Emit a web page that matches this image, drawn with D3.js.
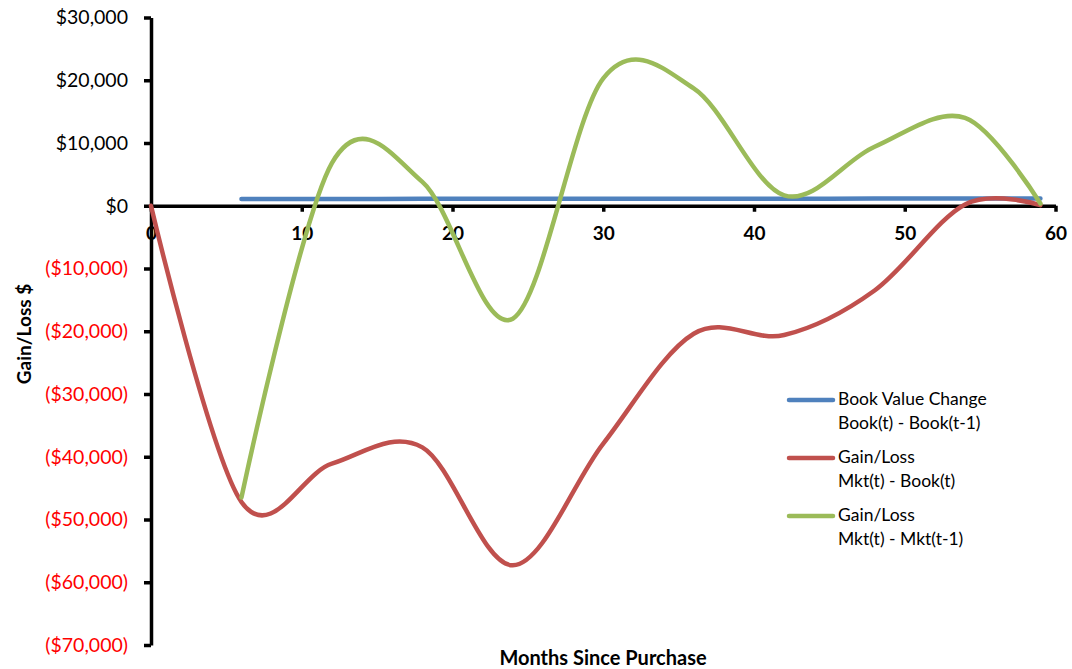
<!DOCTYPE html>
<html>
<head>
<meta charset="utf-8">
<script src="https://cdn.jsdelivr.net/npm/d3@7/dist/d3.min.js"></script>
<style>
  html, body { margin: 0; padding: 0; background: #fff; }
  svg { display: block; font-family: Lato, "Open Sans", sans-serif; }
</style>
</head>
<body>
<svg id="chart" width="1072" height="669"></svg>
<script>
// Months since purchase at which each series is sampled
const bookMonths = [6, 12, 18, 24, 30, 36, 42, 48, 54, 59];
const gainMonths = [0, 6, 12, 18, 24, 30, 36, 42, 48, 54, 59];
const mktMonths  = [6, 12, 18, 24, 30, 36, 42, 48, 54, 59];

// Book(t) - Book(t-1)
const bookChange = [1080, 1090, 1100, 1110, 1115, 1120, 1130, 1140, 1150, 1150];
// Mkt(t) - Book(t)
const gainLossBook = [0, -47200, -41100, -38500, -57300, -37900, -20400, -20600, -13500, 200, 100];
// Mkt(t) - Mkt(t-1)
const gainLossMkt = [-46500, 6800, 3800, -18000, 20300, 18700, 1670, 9400, 14000, 350];

const xTicks = [0, 10, 20, 30, 40, 50, 60];
const yTicks = [30000, 20000, 10000, 0, -10000, -20000, -30000, -40000, -50000, -60000, -70000];

const seriesNames = [
  ["Book Value Change", "Book(t) - Book(t-1)"],
  ["Gain/Loss", "Mkt(t) - Book(t)"],
  ["Gain/Loss", "Mkt(t) - Mkt(t-1)"]
];
const colors = ["#4F81BD", "#C0504D", "#9BBB59"];

const svg = d3.select("#chart");

const x = d3.scaleLinear().domain([0, 60]).range([151, 1055.5]);
const y = d3.scaleLinear().domain([-70000, 30000]).range([645, 17.5]);

const money = v => v < 0 ? "($" + d3.format(",")(-v) + ")" : "$" + d3.format(",")(v);

// Vertical value axis
const yAxis = svg.append("g")
  .attr("transform", `translate(${x(0)},0)`)
  .call(d3.axisLeft(y).tickValues(yTicks).tickSize(7).tickSizeOuter(0).tickPadding(16).tickFormat(money));
yAxis.select(".domain").attr("stroke", "#000").attr("stroke-width", 3.5);
yAxis.selectAll(".tick line").attr("stroke", "#000").attr("stroke-width", 3.5);
yAxis.selectAll(".tick text")
  .attr("font-size", 19.5)
  .attr("font-family", "Lato, sans-serif")
  .attr("fill", d => d < 0 ? "#FF0000" : "#000");

// Horizontal month axis through zero
const xAxis = svg.append("g")
  .attr("transform", `translate(0,${y(0)})`)
  .call(d3.axisBottom(x).tickValues(xTicks).tickSize(6).tickSizeOuter(0).tickPadding(15));
xAxis.select(".domain").attr("stroke", "#000").attr("stroke-width", 3.5);
xAxis.selectAll(".tick line").attr("stroke", "#000").attr("stroke-width", 3.5);
xAxis.selectAll(".tick text")
  .attr("font-size", 19)
  .attr("font-weight", "bold")
  .attr("font-family", "Lato, sans-serif")
  .attr("fill", "#000");

// Axis titles
svg.append("text")
  .attr("transform", `translate(31,334) rotate(-90)`)
  .attr("text-anchor", "middle")
  .attr("font-size", 19)
  .attr("font-weight", "bold")
  .attr("fill", "#000")
  .text("Gain/Loss $");

svg.append("text")
  .attr("x", 603)
  .attr("y", 665)
  .attr("text-anchor", "middle")
  .attr("font-size", 20)
  .attr("font-weight", "bold")
  .attr("fill", "#000")
  .text("Months Since Purchase");

// Smoothed series lines
const line = d3.line()
  .x(d => x(d[0]))
  .y(d => y(d[1]))
  .curve(d3.curveCardinal.tension(0));

const series = [
  d3.zip(bookMonths, bookChange),
  d3.zip(gainMonths, gainLossBook),
  d3.zip(mktMonths, gainLossMkt)
];

svg.append("g").selectAll("path")
  .data(series)
  .join("path")
  .attr("d", line)
  .attr("fill", "none")
  .attr("stroke", (d, i) => colors[i])
  .attr("stroke-width", 4.5)
  .attr("stroke-linecap", "round")
  .attr("stroke-linejoin", "round");

// Legend
const legend = svg.append("g");
const legendTop = [399, 457, 515];
seriesNames.forEach((names, i) => {
  legend.append("line")
    .attr("x1", 789).attr("x2", 833)
    .attr("y1", legendTop[i] + 1).attr("y2", legendTop[i] + 1)
    .attr("stroke", colors[i])
    .attr("stroke-width", 4.5)
    .attr("stroke-linecap", "round");
  names.forEach((t, j) => {
    legend.append("text")
      .attr("x", 838)
      .attr("y", legendTop[i] + j * 24)
      .attr("dy", "0.35em")
      .attr("font-size", 17.5)
      .attr("fill", "#000")
      .text(t);
  });
});
</script>
</body>
</html>
